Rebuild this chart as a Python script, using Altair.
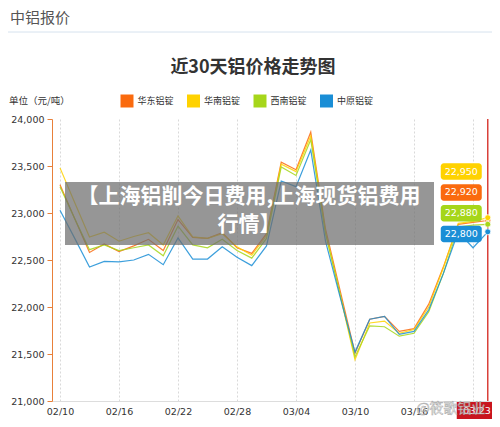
import altair as alt
import pandas as pd

# ---------------- data ----------------
dates = ["02/10", "02/11", "02/14", "02/15", "02/16", "02/17", "02/18", "02/21",
         "02/22", "02/23", "02/24", "02/25", "02/28", "03/01", "03/02", "03/03",
         "03/04", "03/07", "03/08", "03/09", "03/10", "03/11", "03/14", "03/15",
         "03/16", "03/17", "03/18", "03/21", "03/22", "03/23"]
tick_dates = ["02/10", "02/16", "02/22", "02/28", "03/04", "03/10", "03/16", "03/22"]
y_ticks = [21000, 21500, 22000, 22500, 23000, 23500, 24000]

series_names = ["华东铝锭", "华南铝锭", "西南铝锭", "中原铝锭"]
series_colors = ["#FA6A0E", "#FFD200", "#A6D61A", "#1A8ED6"]

east = [23300, 22940, 22580, 22670, 22590, 22650, 22720, 22600, 22930, 22740,
        22730, 22790, 22630, 22570, 22780, 23540, 23460, 23860, 22830, 22170,
        21510, 21870, 21900, 21740, 21770, 22030, 22430, 22880, 22900, 22920]
south = [23480, 23110, 22745, 22795, 22700, 22750, 22790, 22660, 22970, 22745,
         22730, 22780, 22640, 22550, 22760, 23520, 23440, 23820, 22800, 22120,
         21440, 21830, 21850, 21720, 21760, 22000, 22420, 22890, 22910, 22950]
southwest = [23280, 22940, 22610, 22660, 22600, 22630, 22660, 22545, 22860, 22660,
             22630, 22720, 22600, 22520, 22730, 23490, 23400, 23780, 22780, 22130,
             21470, 21800, 21790, 21690, 21720, 21950, 22360, 22850, 22870, 22880]
central = [23030, 22730, 22425, 22485, 22480, 22500, 22560, 22450, 22735, 22510,
           22510, 22640, 22530, 22440, 22650, 23340, 23280, 23670, 22700, 22100,
           21520, 21870, 21900, 21710, 21740, 21970, 22360, 22800, 22630, 22800]

header_text = "中铝报价"
title_text = "近30天铝价格走势图"
unit_text = "单位（元/吨）"
banner_text = "【上海铝削今日费用,上海现货铝费用\n行情】"
watermark_text = "@筱歌铝业"

# ---------------- tables ----------------
rows = []
for name, vals in zip(series_names, [east, south, southwest, central]):
    for i, (d, v) in enumerate(zip(dates, vals)):
        rows.append({"idx": i, "date": d, "series": name, "value": v})
df = pd.DataFrame(rows)
last_idx = len(dates) - 1
last_df = df[df["idx"] == last_idx].reset_index(drop=True)
last_one = pd.DataFrame({"idx": [last_idx], "date": [dates[-1]]})
min_last = float(last_df["value"].min())

W, H = 440, 282
STEP = 14.75
x0 = -8 / STEP
x_scale = alt.Scale(domain=[x0, x0 + W / STEP], nice=False, zero=False)
y_scale = alt.Scale(domain=[21000, 24000], nice=False, zero=False)
color_scale = alt.Scale(domain=series_names, range=series_colors)

label_expr = "[" + ",".join("'%s'" % d for d in dates) + "][datum.value]"
x_axis = alt.Axis(
    values=[dates.index(d) for d in tick_dates], labelExpr=label_expr,
    title=None, grid=True, gridDash=[2, 2], gridColor="#d9d9d9",
    domainColor="#dddddd", ticks=False, labelPadding=5,
    labelFont="DejaVu Sans", labelFontSize=9.5, labelColor="#333333", zindex=0,
)
y_axis = alt.Axis(
    values=y_ticks, labelExpr="format(datum.value, ',')",
    title=None, grid=False, domainColor="#E8803A", tickColor="#E8803A",
    tickSize=5, labelPadding=3, labelFont="DejaVu Sans", labelFontSize=9.5,
    labelColor="#333333",
)

X = alt.X("idx:Q", scale=x_scale, axis=x_axis)
Y = alt.Y("value:Q", scale=y_scale, axis=y_axis)

legend = alt.Legend(
    orient="none", legendX=68.5, legendY=-24.5, direction="horizontal",
    columns=4, title=None, symbolType="square", symbolSize=169,
    symbolStrokeWidth=0, symbolOpacity=1, labelFontSize=9, labelFont="Noto Sans CJK SC",
    labelColor="#333333", labelOffset=4, columnPadding=12.5, padding=0,
)

# legend carrier (draws nothing, only provides the filled-square legend)
legend_layer = alt.Chart(df).transform_filter("false").mark_square(
    size=169, filled=True, opacity=1).encode(
    x=X, y=Y,
    fill=alt.Fill("series:N", scale=color_scale, legend=legend, sort=series_names),
)

lines = alt.Chart(df).mark_line(strokeWidth=1.2, opacity=0.85).encode(
    x=X, y=Y,
    stroke=alt.Stroke("series:N", scale=color_scale, legend=None, sort=series_names),
)

cross = alt.Chart(last_one).mark_rule(color="#D9413A", strokeWidth=1.5).encode(
    x=alt.X("idx:Q", scale=x_scale, axis=x_axis)
)

dots = alt.Chart(last_df).mark_circle(size=36, opacity=1, stroke="white", strokeWidth=0.8).encode(
    x=X, y=Y,
    color=alt.Color("series:N", scale=color_scale, legend=None, sort=series_names),
)

# stacked value badges next to the crosshair
order_by_value = sorted(range(len(series_names)), key=lambda k: last_df.loc[k, "value"])
badges = []
for rank, k in enumerate(order_by_value):
    sub = last_df[last_df["series"] == series_names[k]]
    off = 2.2 - 20.8 * rank
    badges.append(
        alt.Chart(sub).mark_rect(cornerRadius=3, xOffset=-47, x2Offset=-6,
                                 yOffset=off - 8.25, y2Offset=off + 8.25,
                                 color=series_colors[k]).encode(
            x=alt.X("idx:Q", scale=x_scale, axis=x_axis), x2="idx:Q",
            y=alt.datum(min_last, scale=y_scale, axis=y_axis),
            y2=alt.datum(min_last),
        )
    )
    badges.append(
        alt.Chart(sub).mark_text(color="white", fontSize=9.5, font="DejaVu Sans",
                                 xOffset=-26.5, yOffset=off, baseline="middle").encode(
            x=alt.X("idx:Q", scale=x_scale, axis=x_axis),
            y=alt.datum(min_last, scale=y_scale, axis=y_axis),
            text=alt.Text("value:Q", format=","),
        )
    )

# bottom crosshair date badge
date_box = alt.Chart(last_one).mark_rect(color="#C9151E", xOffset=-31, x2Offset=31).encode(
    x=alt.X("idx:Q", scale=x_scale, axis=x_axis), x2="idx:Q",
    y=alt.value(283), y2=alt.value(300),
)
date_text = alt.Chart(last_one).mark_text(color="white", fontSize=9.5, font="DejaVu Sans",
                                          baseline="middle", align="right", xOffset=3).encode(
    x=alt.X("idx:Q", scale=x_scale, axis=x_axis), y=alt.value(292), text="date:N"
)

# page decorations
one = pd.DataFrame({"t": [header_text]})
header = alt.Chart(one).mark_text(font="Noto Sans CJK SC", fontSize=15, color="#555555",
                                  align="left", baseline="middle").encode(
    x=alt.value(-42), y=alt.value(-101), text="t:N")
header_rule = alt.Chart(one).mark_rule(color="#d6e2ee", strokeWidth=1).encode(
    x=alt.value(-44), x2=alt.value(440), y=alt.value(-87))
title = alt.Chart(pd.DataFrame({"t": [title_text]})).mark_text(
    font="Noto Sans CJK SC", fontSize=18, fontWeight="bold", color="#333333",
    align="center", baseline="middle").encode(x=alt.value(201), y=alt.value(-51), text="t:N")
unit = alt.Chart(pd.DataFrame({"t": [unit_text]})).mark_text(
    font="Noto Sans CJK SC", fontSize=9.5, color="#333333",
    align="left", baseline="middle").encode(x=alt.value(-43), y=alt.value(-18), text="t:N")

banner_box = alt.Chart(one).mark_rect(color="#6e6e6e", opacity=0.72).encode(
    x=alt.value(13), x2=alt.value(382), y=alt.value(63), y2=alt.value(126))
banner = alt.Chart(pd.DataFrame({"t": [banner_text]})).mark_text(
    font="Noto Sans CJK SC", fontSize=21, fontWeight="bold", color="white",
    align="center", baseline="top", lineBreak="\n", lineHeight=28).encode(
    x=alt.value(197), y=alt.value(67), text="t:N")
watermark = alt.Chart(pd.DataFrame({"t": [watermark_text]})).mark_text(
    font="Noto Sans CJK SC", fontSize=14, color="#f2f2f2", stroke="#9a9a9a",
    strokeWidth=0.5, opacity=0.85, align="center", baseline="middle").encode(
    x=alt.value(399), y=alt.value(290), text="t:N")

chart = alt.layer(
    header_rule, header, title, unit, legend_layer,
    lines, cross, dots, *badges,
    banner_box, banner, date_box, date_text, watermark,
).properties(
    width=W, height=H,
    padding={"left": 44, "top": 111, "right": 0, "bottom": 18},
    autosize=alt.AutoSizeParams(type="none"),
    background="white",
).configure_view(stroke=None)

chart.save("out.html", embed_options={"renderer": "svg", "actions": False})
